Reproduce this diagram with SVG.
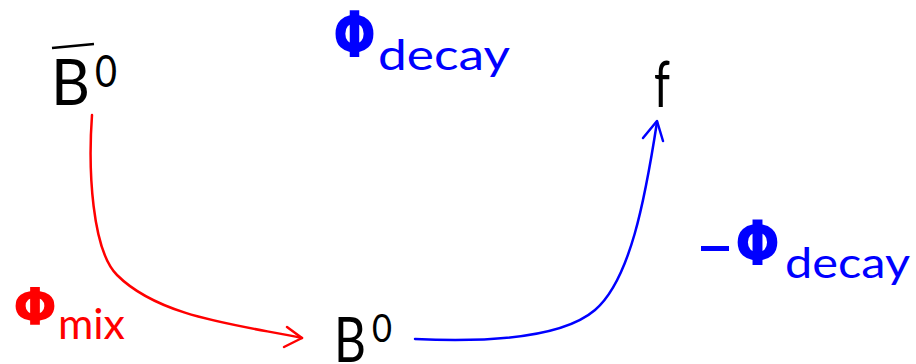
<svg xmlns="http://www.w3.org/2000/svg" width="916" height="364" viewBox="0 0 916 364">
<style>
.lbl{font-family:"Lato","DejaVu Sans",sans-serif;}
.phi{font-family:"DejaVu Sans",sans-serif;font-weight:bold;}
.blk{fill:#000;}
.blu{fill:#0000ff;}
.red{fill:#ff0000;}
.conn{fill:none;stroke-width:2.5;stroke-linecap:round;stroke-linejoin:round;}
</style>
<rect width="916" height="364" fill="#fff"/>
<g id="Bbar">
<line x1="52" y1="48" x2="94" y2="44" stroke="#000" stroke-width="2.5"/>
<text class="lbl blk" x="51" y="105" font-size="64" textLength="39" lengthAdjust="spacingAndGlyphs">B</text>
<text class="lbl blk" x="95" y="87" font-size="44" textLength="22" lengthAdjust="spacingAndGlyphs">0</text>
</g>
<g id="B0">
<text class="lbl blk" x="334" y="362" font-size="62" textLength="32" lengthAdjust="spacingAndGlyphs">B</text>
<text class="lbl blk" x="372" y="342" font-size="38" textLength="20" lengthAdjust="spacingAndGlyphs">0</text>
</g>
<g id="f">
<text class="lbl blk" x="654" y="107" font-size="64" textLength="16" lengthAdjust="spacingAndGlyphs">f</text>
</g>
<g id="phidecay">
<text class="phi blu" x="333" y="57" font-size="64" textLength="43" lengthAdjust="spacingAndGlyphs">Φ</text>
<text class="lbl blu" x="378" y="70" font-size="42" textLength="132" lengthAdjust="spacingAndGlyphs">decay</text>
</g>
<g id="phimix">
<text class="phi red" x="13" y="325" font-size="51" textLength="44" lengthAdjust="spacingAndGlyphs">Φ</text>
<text class="lbl red" x="58" y="339" font-size="42" textLength="67" lengthAdjust="spacingAndGlyphs">mix</text>
</g>
<g id="mphidecay">
<rect x="701" y="246" width="28" height="5" fill="#0000ff"/>
<text class="phi blu" x="735" y="265" font-size="62" textLength="45" lengthAdjust="spacingAndGlyphs">Φ</text>
<text class="lbl blu" x="785" y="278" font-size="42" textLength="125" lengthAdjust="spacingAndGlyphs">decay</text>
</g>
<g id="connectors">
<path class="conn" stroke="#ff0000" d="M92,115 C88,170 92,250 117,275 C160,318 240,325 302,338"/>
<path class="conn" stroke="#ff0000" stroke-width="3" d="M287,327 L302,338 L284,347"/>
<path class="conn" stroke="#0000ff" d="M415,339 C480,342 560,340 595,310 C630,280 645,200 657,122"/>
<path class="conn" stroke="#0000ff" stroke-width="3" d="M643,138 L657,121 L663,141"/>
</g>
</svg>
